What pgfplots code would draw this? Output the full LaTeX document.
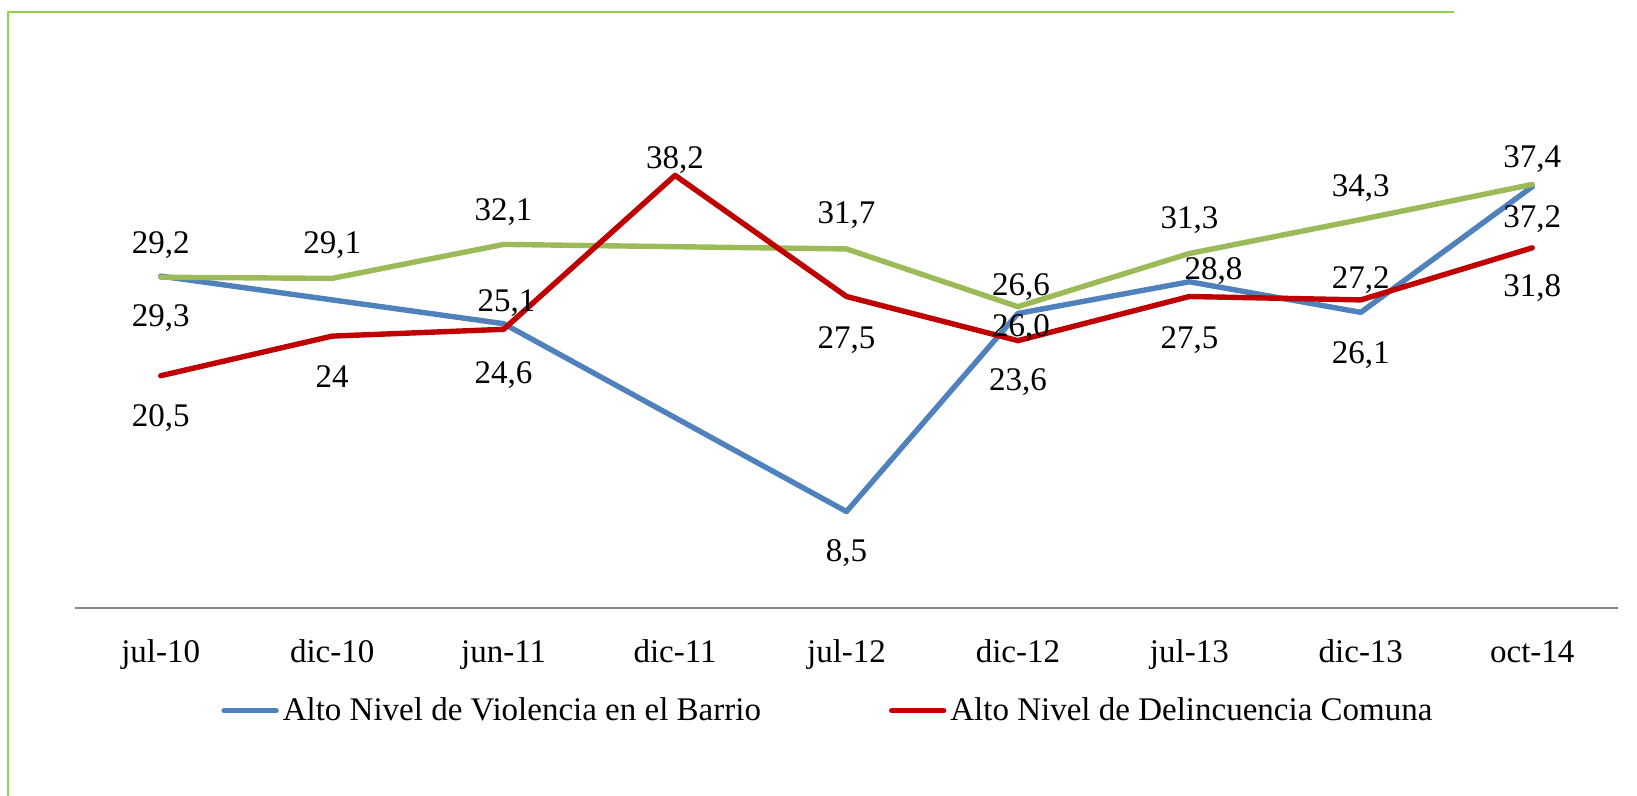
\documentclass[border=0pt]{standalone}
\usepackage{fontspec}
\setmainfont{Liberation Serif}
\usepackage{pgfplots}
\usepackage{pgfplotstable}
\pgfplotsset{compat=1.18}
\definecolor{cblue}{HTML}{4F81BD}
\definecolor{cred}{HTML}{C00000}
\definecolor{cgreen}{HTML}{9BBB59}
\definecolor{cframe}{HTML}{92D050}
\definecolor{caxis}{HTML}{868686}

% x y label dx dy (dy = label baseline shift in pt)
\pgfplotstableread{
x y lab dx dy
0 29.3 29,3 0 -25.1
2 25.1 25,1 1.5 6.2
4 8.5 8,5 0 -25.1
5 26.0 26,0 1.5 -11.5
6 28.8 28,8 12 1.0
7 26.1 26,1 0 -25.6
8 37.2 37,2 0 -20.4
}\tblBlue

\pgfplotstableread{
x y lab dx dy
0 20.5 20,5 0 -25.6
1 24.0 24 0 -25.6
2 24.6 24,6 0 -27.2
3 38.2 38,2 0 3.6
4 27.5 27,5 0 -26.2
5 23.6 23,6 0 -25.1
6 27.5 27,5 0 -26.2
7 27.2 27,2 0 5.5
8 31.8 31,8 0 -24.1
}\tblRed

\pgfplotstableread{
x y lab dx dy
0 29.2 29,2 0 11.9
1 29.1 29,1 0 12.5
2 32.1 32,1 0 11.9
4 31.7 31,7 0 12.5
5 26.6 26,6 1.5 5.7
6 31.3 31,3 0 12.5
7 34.3 34,3 0 11.4
8 37.4 37,4 0 8.3
}\tblGreen

\newcommand{\chartfont}{\fontsize{16.5}{19.8}\selectfont}

\pgfplotsset{
  lbl/.style={
    nodes near coords, point meta=explicit symbolic,
    visualization depends on={\thisrow{dx} \as \dx},
    visualization depends on={\thisrow{dy} \as \dy},
    nodes near coords style={anchor=base, text=black, xshift=\dx pt, yshift=\dy pt, font=\chartfont},
  },
}

\begin{document}
\begin{tikzpicture}
\path[use as bounding box] (-37.5pt,-94.1pt) rectangle (781pt,303.9pt);
\begin{axis}[
  at={(0,0)}, anchor=south west,
  scale only axis, width=771.5pt, height=283pt,
  xmin=-0.5, xmax=8.5, ymin=0, ymax=50,
  clip=false,
  font=\chartfont,
  axis x line*=bottom, axis y line=none,
  x axis line style={draw=caxis, line width=0.9pt},
  xtick={0,1,2,3,4,5,6,7,8},
  xticklabels={jul-10,dic-10,jun-11,dic-11,jul-12,dic-12,jul-13,dic-13,oct-14},
  major tick length=0pt,
  xticklabel style={anchor=base, yshift=-27.5pt, font=\chartfont},
  legend columns=2,
  legend style={draw=none, fill=none, inner sep=0pt,
    at={(axis description cs:0,0)}, anchor=west, xshift=73pt, yshift=-51.4pt,
    font=\chartfont,
    /tikz/every even column/.append style={column sep=62pt}},
  legend image code/.code={\draw[#1, line cap=round] (0pt,0pt) -- (26pt,0pt);},
]
\addplot[cblue, line width=2.7pt, line join=round, line cap=round, lbl]
  table[x=x, y=y, meta=lab] {\tblBlue};
\addlegendentry{Alto Nivel de Violencia en el Barrio}
\addplot[cgreen, line width=2.7pt, line join=round, line cap=round, lbl, forget plot]
  table[x=x, y=y, meta=lab] {\tblGreen};
\addplot[cred, line width=2.7pt, line join=round, line cap=round, lbl]
  table[x=x, y=y, meta=lab] {\tblRed};
\addlegendentry{Alto Nivel de Delincuencia Comuna}
\end{axis}
\draw[cframe, line width=1pt] (-33.5pt,-100pt) -- (-33.5pt,297.9pt) -- (689.5pt,297.9pt);
\end{tikzpicture}
\end{document}
